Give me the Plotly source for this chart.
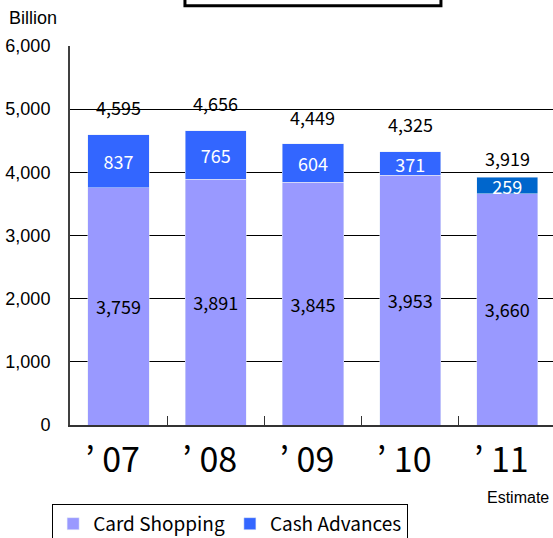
import plotly.graph_objects as go

years = ["’ 07", "’ 08", "’ 09", "’ 10", "’ 11"]
card_shopping = [3759, 3891, 3845, 3953, 3660]
cash_advances = [837, 765, 604, 371, 259]
totals = [4595, 4656, 4449, 4325, 3919]
yticks = [0, 1000, 2000, 3000, 4000, 5000, 6000]

jp_font = "Noto Sans CJK JP"
cash_colors = ["#3366FF"] * 4 + ["#0066CC"]

fig = go.Figure()
fig.add_trace(go.Bar(x=years, y=card_shopping, name="Card Shopping",
                     marker_color="#9999FF", width=0.63,
                     text=[f"{v:,}" for v in card_shopping],
                     textposition="inside", insidetextanchor="middle",
                     textangle=0,
                     textfont=dict(family=jp_font, size=18, color="black")))
fig.add_trace(go.Bar(x=years, y=cash_advances, name="Cash Advances",
                     marker_color=cash_colors, width=0.63,
                     text=[f"{v:,}" for v in cash_advances],
                     textposition="inside", insidetextanchor="middle",
                     textangle=0,
                     textfont=dict(family=jp_font, size=18, color="white")))

# totals above the stacks
shifts = [28, 28, 27, 28, 19]
for yr, tot, s in zip(years, totals, shifts):
    fig.add_annotation(x=yr, y=tot, text=f"{tot:,}", showarrow=False,
                       yanchor="middle", yshift=s,
                       font=dict(family=jp_font, size=18, color="black"))

fig.add_annotation(x=0.996, y=-0.19, xref="paper", yref="paper",
                   text="Estimate", showarrow=False, xanchor="right",
                   yanchor="middle",
                   font=dict(family="Liberation Sans", size=16, color="black"))
fig.add_annotation(x=-63 / 483, y=1.0, xref="paper", yref="paper",
                   yshift=28, text="Billion", showarrow=False,
                   xanchor="left", yanchor="middle",
                   font=dict(family="Liberation Sans", size=18, color="black"))

# empty title box at the top
fig.add_shape(type="rect", xref="paper", yref="paper",
              x0=0.238, x1=0.768, y0=1.106, y1=1.2,
              line=dict(color="black", width=3), fillcolor="white")

fig.update_layout(
    width=553, height=538,
    barmode="stack",
    plot_bgcolor="white", paper_bgcolor="white",
    margin=dict(l=70, r=0, t=46, b=113, autoexpand=False),
    uniformtext=dict(minsize=18, mode="show"),
    showlegend=True,
    legend=dict(orientation="h", x=-0.037, y=-0.208, xanchor="left",
                yanchor="top", bordercolor="black", borderwidth=1,
                font=dict(family=jp_font, size=19, color="black"),
                traceorder="normal", itemwidth=30),
    font=dict(family="Liberation Sans", color="black"),
)

fig.update_xaxes(type="category", range=[-0.5, 4.47],
                 showline=True, linecolor="#333333", linewidth=2,
                 ticks="inside", tickson="boundaries", ticklen=9,
                 tickcolor="#333333", ticklabelshift=-6,
                 ticklabelstandoff=4,
                 tickfont=dict(family=jp_font, size=34, color="black"))
fig.update_yaxes(range=[0, 6000], tickvals=yticks,
                 ticktext=[f"{v:,}" for v in yticks],
                 showgrid=True, gridcolor="black", gridwidth=1,
                 showline=True, linecolor="#404040", linewidth=2,
                 zeroline=False, ticks="", ticklabelstandoff=14,
                 tickfont=dict(family="Liberation Sans", size=18,
                               color="black"))

fig.write_html("out.html", config={"displayModeBar": False},
               post_script="document.body.style.margin='0';"
                           "document.body.style.overflow='hidden';")
